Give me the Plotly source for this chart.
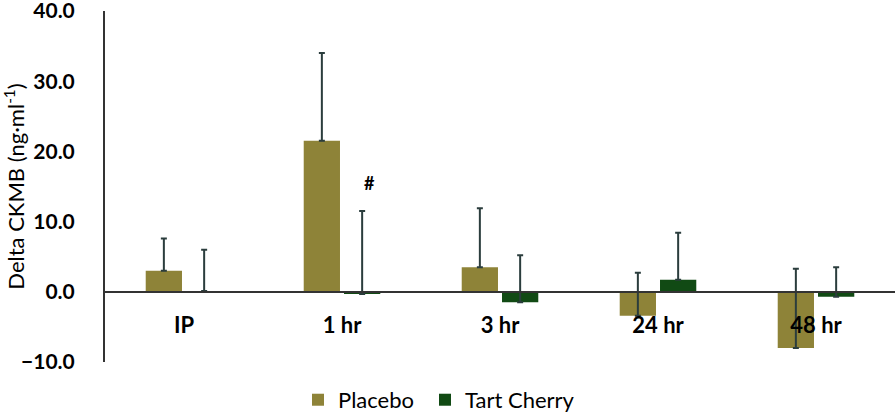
import plotly.graph_objects as go

categories = ["IP", "1 hr", "3 hr", "24 hr", "48 hr"]
placebo = [3.0, 21.5, 3.5, -3.4, -8.0]
placebo_sd = [4.6, 12.5, 8.4, 6.1, 11.3]
cherry = [0.1, -0.3, -1.5, 1.7, -0.7]
cherry_sd = [5.9, 11.8, 6.7, 6.7, 4.2]
y_ticks = [-10, 0, 10, 20, 30, 40]

FONT = "Lato"
ERR = "#2B3D3D"

fig = go.Figure()
fig.add_trace(go.Bar(
    x=categories, y=placebo, name="Placebo", legend="legend",
    marker=dict(color="#8E8338", line=dict(width=0)),
    error_y=dict(type="data", array=placebo_sd, arrayminus=[0] * len(placebo),
                 color=ERR, thickness=2, width=3),
))
fig.add_trace(go.Bar(
    x=categories, y=cherry, name="Tart Cherry", legend="legend2",
    marker=dict(color="#114A14", line=dict(width=0)),
    error_y=dict(type="data", array=cherry_sd, arrayminus=[0] * len(cherry),
                 color=ERR, thickness=2, width=3),
))

fig.add_annotation(x=categories[1], y=cherry[1] + cherry_sd[1] + 4.0, text="<b>#</b>",
                   showarrow=False, xshift=27, font=dict(family=FONT, size=18, color="black"))

leg = dict(orientation="h", xref="container", xanchor="left",
           yref="container", y=0.034, yanchor="middle",
           font=dict(family=FONT, size=22, color="black"))

fig.update_layout(
    width=895, height=414,
    margin=dict(l=105, r=0, t=11, b=52, autoexpand=False),
    paper_bgcolor="white", plot_bgcolor="white",
    barmode="group", bargap=0.49, bargroupgap=0.1,
    font=dict(family=FONT, color="black"),
    showlegend=True,
    legend=dict(leg, x=298 / 895),
    legend2=dict(leg, x=425 / 895),
    xaxis=dict(
        anchor="free", position=0.2, showline=True, linecolor="#333333", linewidth=2,
        ticks="", showgrid=False, ticklabelstandoff=14, automargin=False,
        tickfont=dict(family=FONT, size=22, color="black", weight="bold"),
    ),
    yaxis=dict(
        range=[-10, 40], tickvals=y_ticks, tickformat=".1f", automargin=False,
        showline=True, linecolor="#333333", linewidth=2, showgrid=False,
        zeroline=False, ticks="", ticklabelstandoff=24, ticklabeloverflow="allow",
        tickfont=dict(family=FONT, size=21, color="black", weight="bold"),
        title=dict(text="Delta CKMB (ng·ml<sup>-1</sup>)", standoff=8,
                   font=dict(family=FONT, size=22, color="black")),
    ),
)

fig.write_html("out.html", config={"displayModeBar": False},
               post_script="document.body.style.margin='0';")
